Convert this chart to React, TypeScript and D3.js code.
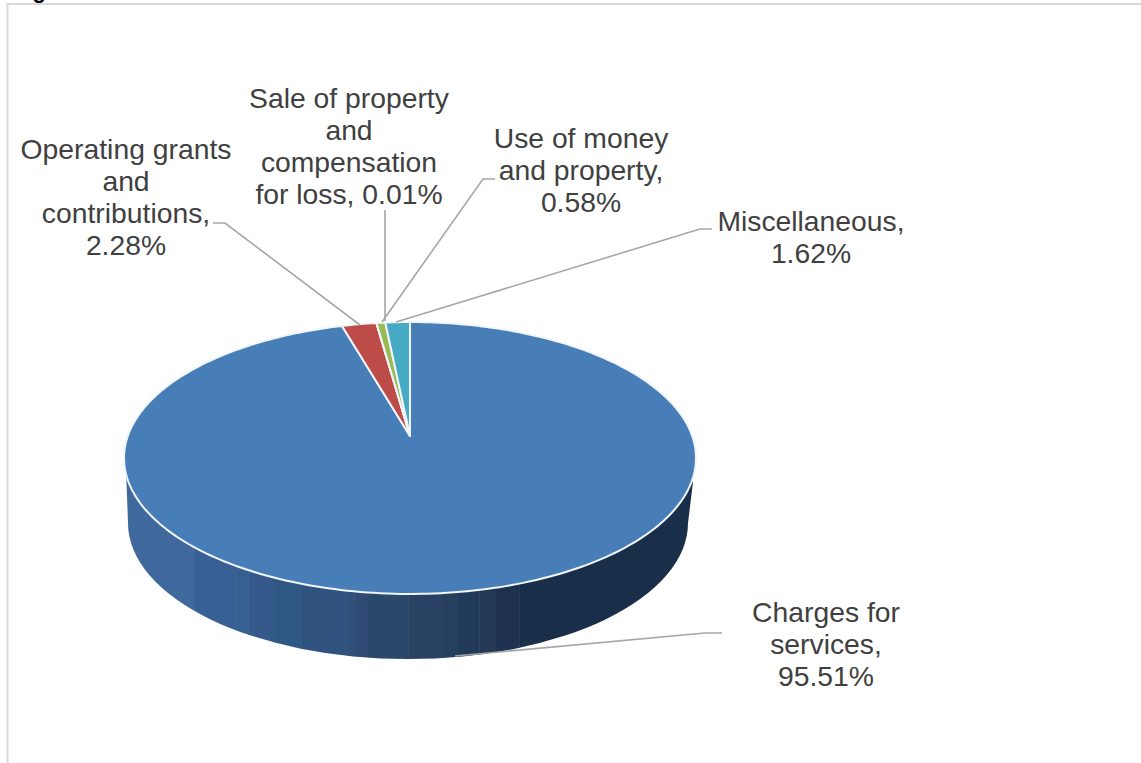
import * as d3 from "d3";

// Revenue sources, clockwise from twelve o'clock
const categories = [
  "Charges for services",
  "Operating grants and contributions",
  "Sale of property and compensation for loss",
  "Use of money and property",
  "Miscellaneous",
];
const shares = [95.51, 2.28, 0.01, 0.58, 1.62];
const sliceColors = ["#477eb8", "#bd4b48", "#98b954", "#98b954", "#46aac5"];

const labelLines = [
  ["Charges for", "services,", "95.51%"],
  ["Operating grants", "and", "contributions,", "2.28%"],
  ["Sale of property", "and", "compensation", "for loss, 0.01%"],
  ["Use of money", "and property,", "0.58%"],
  ["Miscellaneous,", "1.62%"],
];
const labelCenters = [826, 126, 349, 581, 811];
const labelBaselines = [622, 159, 108, 148, 231];
const leaderPaths = [
  [[722, 633], [705, 633], [455, 656]],
  [[213, 223], [225, 223], [360, 325]],
  [[385, 210], [385, 321]],
  [[495, 179], [483, 179], [382, 322]],
  [[712, 229], [700, 229], [396, 322]],
];

// Shading of the rim, left to right, as [end of band along the width, colour]
const rimBands: [number, string][] = [
  [0.124, "#3f689d"],
  [0.196, "#386094"],
  [0.217, "#375f8f"],
  [0.262, "#35598a"],
  [0.311, "#305884"],
  [0.39, "#2f527f"],
  [0.404, "#30507a"],
  [0.428, "#2f4b74"],
  [0.497, "#29486a"],
  [0.559, "#294264"],
  [0.584, "#25405e"],
  [0.621, "#213a59"],
  [0.652, "#233853"],
  [0.691, "#1f3150"],
  [1, "#192f49"],
];

// Tilted disc: a circle seen in perspective, so the hub sits above the outline's middle
const hubX = 410;
const hubY = 436;
const perspective = 0.1618;
const depthY = 132.4;
const spreadX = 282.2;
const rimX = d3.scaleLinear().domain([0, 1]).range([124, 696]);

const project = (angle: number): [number, number] => {
  const w = 1 + perspective * Math.cos(angle);
  return [hubX + (spreadX * Math.sin(angle)) / w, hubY - (depthY * Math.cos(angle)) / w];
};

const outline = d3.line<[number, number]>();

const sliceArcs = d3
  .pie<number>()
  .sort(null)
  .value((d) => d)(shares);

const slicePath = (start: number, end: number) => {
  const steps = Math.max(2, Math.ceil((end - start) / 0.02));
  const rim = d3.range(steps + 1).map((i) => project(start + ((end - start) * i) / steps));
  return outline([[hubX, hubY], ...rim]) + "Z";
};

const rimPath = "M126,470 L128,523 A280,136 0 0 0 688,523 L693,482 Z";

export default function App() {
  const edges = [0, ...rimBands.map((b) => b[0])];
  return (
    <svg
      width={1141}
      height={763}
      viewBox="0 0 1141 763"
      style={{ position: "absolute", left: 0, top: 0, display: "block", background: "#fff" }}
      fontFamily="'Liberation Sans', Arial, sans-serif"
    >
      <defs>
        <clipPath id="rim-clip">
          <path d={rimPath} />
        </clipPath>
      </defs>

      <text x={13} y={-2} fontSize={22} fontWeight={700} fill="#000">
        Figure
      </text>
      <path d="M7.5,763 V4 H1141" fill="none" stroke="#d9d9d9" strokeWidth={2} />

      <g clipPath="url(#rim-clip)">
        {rimBands.map(([end, color], i) => (
          <rect
            key={i}
            x={rimX(edges[i])}
            y={440}
            width={rimX(end) - rimX(edges[i]) + 0.5}
            height={230}
            fill={color}
          />
        ))}
      </g>

      {sliceArcs.map((arc, i) => (
        <path
          key={categories[i]}
          d={slicePath(arc.startAngle, arc.endAngle)}
          fill={sliceColors[i]}
          stroke="#f1f4f8"
          strokeWidth={2}
          strokeLinejoin="round"
        />
      ))}

      {leaderPaths.map((pts, i) => (
        <path
          key={i}
          d={outline(pts as [number, number][]) ?? ""}
          fill="none"
          stroke="#a6a6a6"
          strokeWidth={1.6}
        />
      ))}

      {labelLines.map((lines, i) => (
        <text key={i} textAnchor="middle" fontSize={28.3} fill="#404040">
          {lines.map((line, j) => (
            <tspan key={j} x={labelCenters[i]} y={labelBaselines[i] + j * 32}>
              {line}
            </tspan>
          ))}
        </text>
      ))}
    </svg>
  );
}
